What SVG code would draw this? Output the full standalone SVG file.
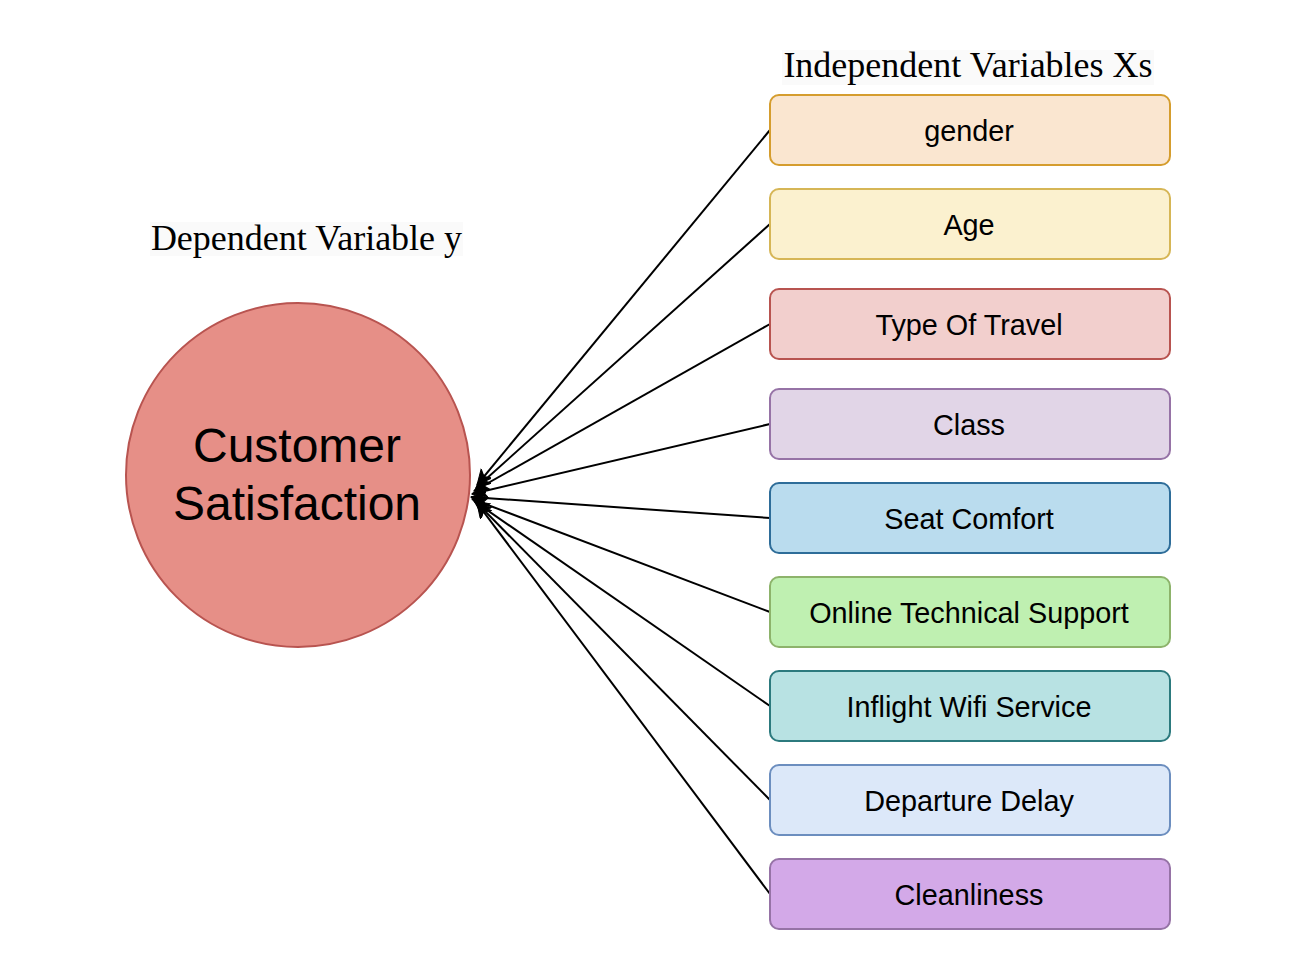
<svg xmlns="http://www.w3.org/2000/svg" width="1290" height="974" viewBox="0 0 1290 974">
<defs>
<style>
.title{font-family:"Liberation Serif","Times New Roman",serif;font-size:36px;fill:#000;text-anchor:middle}
.tbg{fill:#fafafa}
.box{stroke-width:2}
.lbl{font-family:"Liberation Sans",Arial,Helvetica,sans-serif;font-size:28.8px;fill:#000;text-anchor:middle}
.big{font-family:"Liberation Sans",Arial,Helvetica,sans-serif;font-size:48px;fill:#000;text-anchor:middle}
.edge{stroke:#000;stroke-width:2;fill:none;marker-end:url(#arr)}
</style>
<marker id="arr" markerUnits="userSpaceOnUse" markerWidth="20" markerHeight="16" refX="15" refY="7" orient="auto">
<path d="M0,0 L15,7 L0,14 L4,7 Z" fill="#000" stroke="#000" stroke-width="1"/>
</marker>
</defs>
<rect width="1290" height="974" fill="#fff"/>

<g id="title-independent">
<rect class="tbg" x="782" y="50" width="372" height="35"/>
<text class="title" x="968" y="77">Independent Variables Xs</text>
</g>
<g id="title-dependent">
<rect class="tbg" x="150" y="222" width="313" height="34"/>
<text class="title" x="306.5" y="250">Dependent Variable y</text>
</g>

<g id="customer-satisfaction">
<circle cx="298" cy="475" r="172" fill="#e68f87" stroke="#b85450" stroke-width="2"/>
<text class="big" x="297" y="462">Customer</text>
<text class="big" x="297" y="520">Satisfaction</text>
</g>

<g id="connectors">
<line class="edge" x1="770" y1="130" x2="477" y2="485"/>
<line class="edge" x1="770" y1="224" x2="476" y2="488"/>
<line class="edge" x1="770" y1="324" x2="474" y2="491"/>
<line class="edge" x1="770" y1="424" x2="472" y2="494"/>
<line class="edge" x1="770" y1="518" x2="471" y2="497"/>
<line class="edge" x1="770" y1="612" x2="472" y2="499"/>
<line class="edge" x1="770" y1="706" x2="474" y2="501"/>
<line class="edge" x1="770" y1="800" x2="476" y2="502"/>
<line class="edge" x1="770" y1="894" x2="477" y2="503"/>
</g>

<g id="gender">
<rect class="box" x="770" y="95" width="400" height="70" rx="9" fill="#fae6d0" stroke="#d59d2e"/>
<text class="lbl" x="969" y="141">gender</text>
</g>
<g id="age">
<rect class="box" x="770" y="189" width="400" height="70" rx="9" fill="#fbf1cf" stroke="#d6b656"/>
<text class="lbl" x="969" y="235">Age</text>
</g>
<g id="type-of-travel">
<rect class="box" x="770" y="289" width="400" height="70" rx="9" fill="#f2cfcd" stroke="#b85450"/>
<text class="lbl" x="969" y="335">Type Of Travel</text>
</g>
<g id="class">
<rect class="box" x="770" y="389" width="400" height="70" rx="9" fill="#e1d5e7" stroke="#9673a6"/>
<text class="lbl" x="969" y="435">Class</text>
</g>
<g id="seat-comfort">
<rect class="box" x="770" y="483" width="400" height="70" rx="9" fill="#badcee" stroke="#2e6d99"/>
<text class="lbl" x="969" y="529">Seat Comfort</text>
</g>
<g id="online-technical-support">
<rect class="box" x="770" y="577" width="400" height="70" rx="9" fill="#bff0b1" stroke="#8db36b"/>
<text class="lbl" x="969" y="623">Online Technical Support</text>
</g>
<g id="inflight-wifi-service">
<rect class="box" x="770" y="671" width="400" height="70" rx="9" fill="#b8e2e3" stroke="#2c7a7e"/>
<text class="lbl" x="969" y="717">Inflight Wifi Service</text>
</g>
<g id="departure-delay">
<rect class="box" x="770" y="765" width="400" height="70" rx="9" fill="#dce8f9" stroke="#6c8ebf"/>
<text class="lbl" x="969" y="811">Departure Delay</text>
</g>
<g id="cleanliness">
<rect class="box" x="770" y="859" width="400" height="70" rx="9" fill="#d3a9e8" stroke="#9673a6"/>
<text class="lbl" x="969" y="905">Cleanliness</text>
</g>
</svg>
